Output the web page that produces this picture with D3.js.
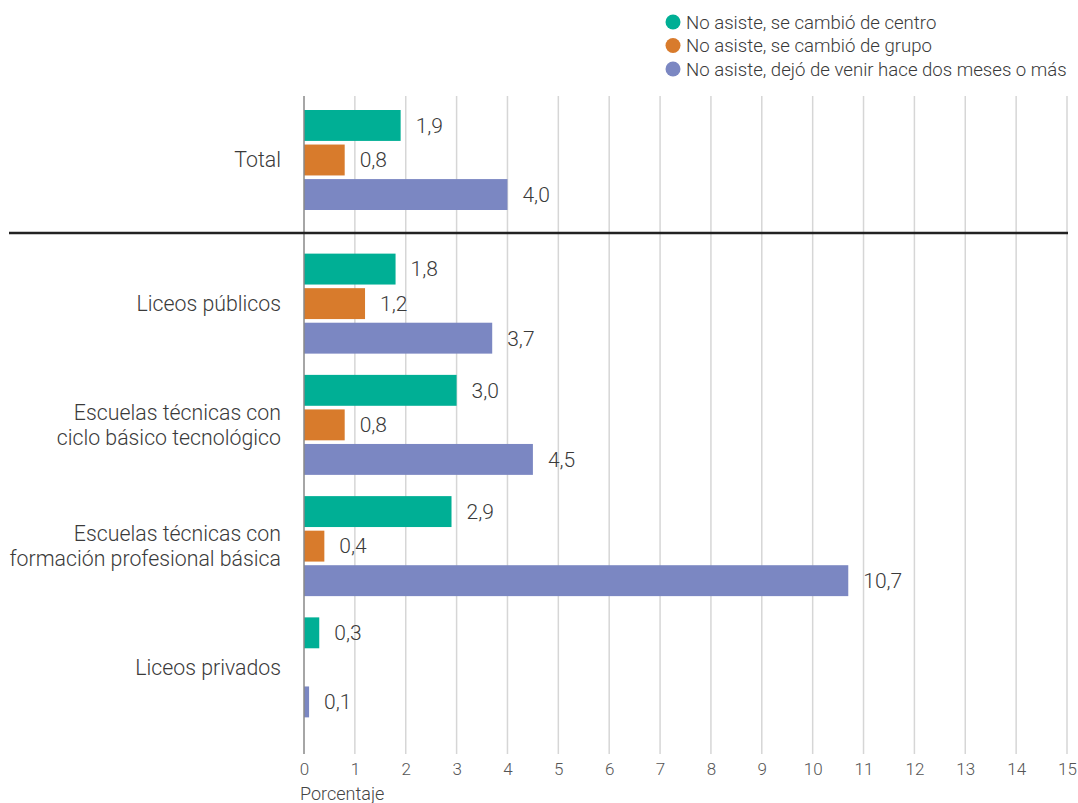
<!DOCTYPE html>
<html><head><meta charset="utf-8">
<script src="https://cdn.jsdelivr.net/npm/d3@7"></script>
<style>
body{margin:0;background:#fff;}
text{font-family:Roboto,"Noto Sans",sans-serif;font-weight:300;}
</style></head>
<body><svg id="chart" width="1078" height="803"></svg>
<script>
const categories = ["Total", "Liceos públicos", "Escuelas técnicas con\nciclo básico tecnológico", "Escuelas técnicas con\nformación profesional básica", "Liceos privados"];
const seriesNames = ["No asiste, se cambió de centro", "No asiste, se cambió de grupo", "No asiste, dejó de venir hace dos meses o más"];
const cambioCentro = [1.9, 1.8, 3.0, 2.9, 0.3];
const cambioGrupo = [0.8, 1.2, 0.8, 0.4, null];
const dejoVenir = [4.0, 3.7, 4.5, 10.7, 0.1];
const xTicks = [0,1,2,3,4,5,6,7,8,9,10,11,12,13,14,15];
const colors = ["#00AF95", "#D87B2C", "#7B87C2"];
const xTitle = "Porcentaje";

const seriesValues = [cambioCentro, cambioGrupo, dejoVenir];
const svg = d3.select("#chart");
const x = d3.scaleLinear().domain([0, 15]).range([304, 1067]);

const totalBand = d3.scaleBand().domain([categories[0]]).range([99, 221]);
const restBand = d3.scaleBand().domain(categories.slice(1)).range([243, 728]);
const groupCenter = c => c === categories[0] ? totalBand(c) + totalBand.bandwidth()/2 : restBand(c) + restBand.bandwidth()/2;
const inner = d3.scaleBand().domain(seriesNames).range([-50, 50]).paddingInner(0.105);

// gridlines
const gTop = 96, gBottom = 754;
svg.append("g").selectAll("line").data(xTicks.slice(1)).join("line")
  .attr("x1", d => x(d)).attr("x2", d => x(d)).attr("y1", gTop).attr("y2", gBottom)
  .attr("stroke", "#d6d6d6").attr("stroke-width", 1.5);

// bars
const rows = [];
categories.forEach((c, i) => seriesNames.forEach((s, j) => {
  rows.push({cat: c, series: s, value: seriesValues[j][i], color: colors[j]});
}));
const valid = rows.filter(r => r.value !== null);
svg.append("g").selectAll("rect").data(valid).join("rect")
  .attr("x", x(0)).attr("y", d => groupCenter(d.cat) + inner(d.series))
  .attr("width", d => x(d.value) - x(0)).attr("height", inner.bandwidth())
  .attr("fill", d => d.color);
const fmt = v => v.toFixed(1).replace(".", ",");
svg.append("g").selectAll("text").data(valid).join("text")
  .attr("x", d => x(d.value) + 15).attr("y", d => groupCenter(d.cat) + inner(d.series) + inner.bandwidth()/2)
  .attr("dy", "0.35em").attr("font-size", 21).attr("fill", "#3a3a3a").text(d => fmt(d.value));

// zero axis line
svg.append("line").attr("x1", x(0)).attr("x2", x(0)).attr("y1", gTop).attr("y2", gBottom)
  .attr("stroke", "#888").attr("stroke-width", 1.5);

// separator
svg.append("line").attr("x1", 9).attr("x2", 1068).attr("y1", 233).attr("y2", 233)
  .attr("stroke", "#222").attr("stroke-width", 2.5);

// category labels
const labG = svg.append("g");
categories.forEach(c => {
  const lines = c.split("\n");
  const t = labG.append("text").attr("text-anchor", "end").attr("font-size", 21.3).attr("fill", "#3a3a3a");
  const lh = 24.5;
  const y0 = groupCenter(c) - (lines.length - 1) * lh / 2;
  lines.forEach((l, k) => t.append("tspan").attr("x", 281).attr("y", y0 + k * lh).attr("dy", "0.35em").text(l));
});

// x axis
const xAxis = d3.axisBottom(x).tickValues(xTicks).tickSize(0).tickPadding(9).tickFormat(d => d);
const ax = svg.append("g").attr("transform", `translate(0,${gBottom})`).call(xAxis);
ax.select(".domain").remove();
ax.selectAll("text").attr("font-size", 17).attr("fill", "#555").style("font-family", "Roboto").style("font-weight", 300);
svg.append("text").attr("x", 300).attr("y", 800).attr("font-size", 18).attr("fill", "#444").text(xTitle);

// legend
const lg = svg.append("g");
seriesNames.forEach((s, j) => {
  const y = 22 + j * 23.5;
  lg.append("circle").attr("cx", 673).attr("cy", y).attr("r", 7.5).attr("fill", colors[j]);
  lg.append("text").attr("x", 686).attr("y", y).attr("dy", "0.35em").attr("font-size", 18.6).attr("fill", "#3a3a3a").text(s);
});
</script></body></html>
